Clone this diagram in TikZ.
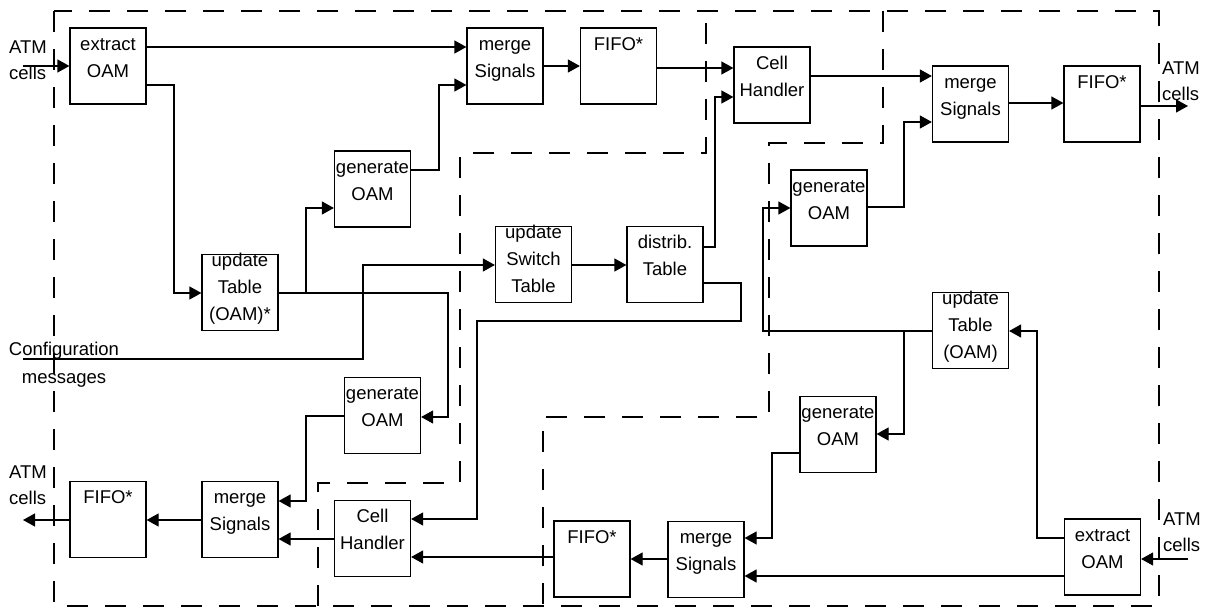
\documentclass[tikz,border=0pt]{standalone}
\usepackage{fontspec}
\setmainfont{Liberation Sans}
\usetikzlibrary{arrows.meta,calc}
\newcommand{\boxtxt}[1]{\parbox[t]{100pt}{\centering\fontsize{18.5}{27}\selectfont #1}}
\newcommand{\lefttxt}[1]{\parbox[t]{60pt}{\raggedright\fontsize{18.5}{26}\selectfont #1}}
\tikzset{
  box/.style={draw, line width=1.2pt, minimum width=76pt, minimum height=76pt, inner sep=0pt},
  lbl/.style={inner sep=0pt, anchor=base},
  conn/.style={line width=1.2pt},
  arr/.style={line width=1.2pt, -{Triangle[length=12pt,width=13pt]}},
  frame/.style={line width=1.2pt, dash pattern=on 21pt off 17pt},
}
\begin{document}
\begin{tikzpicture}[x=1pt,y=-1pt]
\useasboundingbox (0,0) rectangle (1208,608);

% dashed partitions
\draw[frame] (54,11) rectangle (1159,606);
\draw[frame] (318,606) -- (318,483) -- (460,483) -- (460,153) -- (706,153) -- (706,11);
\draw[frame] (883,11) -- (883,143) -- (769,143) -- (769,417) -- (543,417) -- (543,606);

% boxes
\node[box] (ex1) at (108,66) {};
\node[box] (ms1) at (505,66) {};
\node[box] (ff1) at (618.5,66) {};
\node[box] (ch1) at (772,85) {};
\node[box] (ms2) at (970.5,104) {};
\node[box] (ff2) at (1102,104) {};
\node[box] (go1) at (372.5,189) {};
\node[box] (ut1) at (240,292.5) {};
\node[box] (us) at (533.5,264.5) {};
\node[box] (dt) at (665,264.5) {};
\node[box] (go2) at (829,208) {};
\node[box] (ut2) at (970.5,330.5) {};
\node[box] (go3) at (382.5,415.5) {};
\node[box] (go4) at (838,434.5) {};
\node[box] (ms3) at (240,519.5) {};
\node[box] (ff3) at (108,519.5) {};
\node[box] (ch2) at (372.5,538.5) {};
\node[box] (ff4) at (592,559) {};
\node[box] (ms4) at (706,559.5) {};
\node[box] (ex2) at (1102.5,557) {};

% box texts
\node[lbl] (ex1t) at ($(ex1.north)+(0,23)$) {\boxtxt{extract\\OAM}};
\node[lbl] (ms1t) at ($(ms1.north)+(0,23)$) {\boxtxt{merge\\Signals}};
\node[lbl] (ff1t) at ($(ff1.north)+(0,23)$) {\boxtxt{FIFO*}};
\node[lbl] (ch1t) at ($(ch1.north)+(0,23)$) {\boxtxt{Cell\\Handler}};
\node[lbl] (ms2t) at ($(ms2.north)+(0,23)$) {\boxtxt{merge\\Signals}};
\node[lbl] (ff2t) at ($(ff2.north)+(0,23)$) {\boxtxt{FIFO*}};
\node[lbl] (go1t) at ($(go1.north)+(0,23)$) {\boxtxt{generate\\OAM}};
\node[lbl] (ut1t) at ($(ut1.north)+(0,13)$) {\boxtxt{update\\Table\\(OAM)*}};
\node[lbl] (ust) at ($(us.north)+(0,13)$) {\boxtxt{update\\Switch\\Table}};
\node[lbl] (dtt) at ($(dt.north)+(0,23)$) {\boxtxt{distrib.\\Table}};
\node[lbl] (go2t) at ($(go2.north)+(0,23)$) {\boxtxt{generate\\OAM}};
\node[lbl] (ut2t) at ($(ut2.north)+(0,13)$) {\boxtxt{update\\Table\\(OAM)}};
\node[lbl] (go3t) at ($(go3.north)+(0,23)$) {\boxtxt{generate\\OAM}};
\node[lbl] (go4t) at ($(go4.north)+(0,23)$) {\boxtxt{generate\\OAM}};
\node[lbl] (ms3t) at ($(ms3.north)+(0,23)$) {\boxtxt{merge\\Signals}};
\node[lbl] (ff3t) at ($(ff3.north)+(0,23)$) {\boxtxt{FIFO*}};
\node[lbl] (ch2t) at ($(ch2.north)+(0,23)$) {\boxtxt{Cell\\Handler}};
\node[lbl] (ff4t) at ($(ff4.north)+(0,23)$) {\boxtxt{FIFO*}};
\node[lbl] (ms4t) at ($(ms4.north)+(0,23)$) {\boxtxt{merge\\Signals}};
\node[lbl] (ex2t) at ($(ex2.north)+(0,23)$) {\boxtxt{extract\\OAM}};

% outside labels
\node[inner sep=0pt, anchor=base west] (atm1) at (9,53) {\lefttxt{ATM\\cells}};
\node[inner sep=0pt, anchor=base west] (atm2) at (9,478) {\lefttxt{ATM\\cells}};
\node[inner sep=0pt, anchor=base west] (atm3) at (1162,74) {\lefttxt{ATM\\cells}};
\node[inner sep=0pt, anchor=base west] (atm4) at (1163,525) {\lefttxt{ATM\\cells}};
\node[inner sep=0pt, anchor=base] (cfg) at (64,355) {\parbox[t]{140pt}{\centering\fontsize{18.5}{28}\selectfont Configuration\\messages}};

% free ends
\coordinate (inL) at (23,66);
\coordinate (outL) at (23,520);
\coordinate (outR) at (1188,106);
\coordinate (inR) at (1188,559);
\coordinate (cfgin) at (23,359);

% connectors, top-left part
\draw[arr] (inL) -- (ex1.west |- inL);
\draw[arr] (ex1.east |- 0,47) -- (ms1.west |- 0,47);
\draw[arr] (ex1.east |- 0,85) -- (174,85) -- (174,293) -- (ut1.west |- 0,293);
\draw[arr] (ut1.east |- 0,293) -- (306,293) -- (306,208) -- (go1.west |- 0,208);
\draw[arr] (ut1.east |- 0,293) -- (448,293) -- (448,417) -- (go3.east |- 0,417);
\draw[arr] (go1.east |- 0,170) -- (439,170) -- (439,85) -- (ms1.west |- 0,85);
\draw[arr] (ms1.east |- 0,66) -- (ff1.west |- 0,66);
\draw[arr] (ff1.east |- 0,68) -- (ch1.west |- 0,68);
\draw[arr] (cfgin) -- (363,359) -- (363,265) -- (us.west |- 0,265);
\draw[arr] (us.east |- 0,265) -- (dt.west |- 0,265);
\draw[arr] (dt.east |- 0,247) -- (715,247) -- (715,97) -- (ch1.west |- 0,97);
\draw[arr] (dt.east |- 0,283) -- (741,283) -- (741,321) -- (477,321) -- (477,519) -- (ch2.east |- 0,519);

% top-right part
\draw[arr] (ch1.east |- 0,76) -- (ms2.west |- 0,76);
\draw[arr] (go2.east |- 0,207) -- (904,207) -- (904,122) -- (ms2.west |- 0,122);
\draw[arr] (ms2.east |- 0,103) -- (ff2.west |- 0,103);
\draw[arr] (ff2.east |- outR) -- (outR);
\draw[arr] (ut2.west |- 0,331) -- (763,331) -- (763,208) -- (go2.west |- 0,208);
\draw[arr] (ut2.west |- 0,331) -- (904,331) -- (904,434) -- (go4.east |- 0,434);

% bottom-right part
\draw[arr] (go4.west |- 0,453) -- (772,453) -- (772,538) -- (ms4.east |- 0,538);
\draw[arr] (ex2.west |- 0,538) -- (1037,538) -- (1037,331) -- (ut2.east |- 0,331);
\draw[arr] (ex2.west |- 0,576) -- (ms4.east |- 0,576);
\draw[arr] (inR) -- (ex2.east |- inR);
\draw[arr] (ms4.west |- 0,559) -- (ff4.east |- 0,559);
\draw[arr] (ff4.west |- 0,557) -- (ch2.east |- 0,557);

% bottom-left part
\draw[arr] (ch2.west |- 0,539) -- (ms3.east |- 0,539);
\draw[arr] (go3.west |- 0,416) -- (306,416) -- (306,501) -- (ms3.east |- 0,501);
\draw[arr] (ms3.west |- 0,520) -- (ff3.east |- 0,520);
\draw[arr] (ff3.west |- outL) -- (outL);
\end{tikzpicture}
\end{document}
